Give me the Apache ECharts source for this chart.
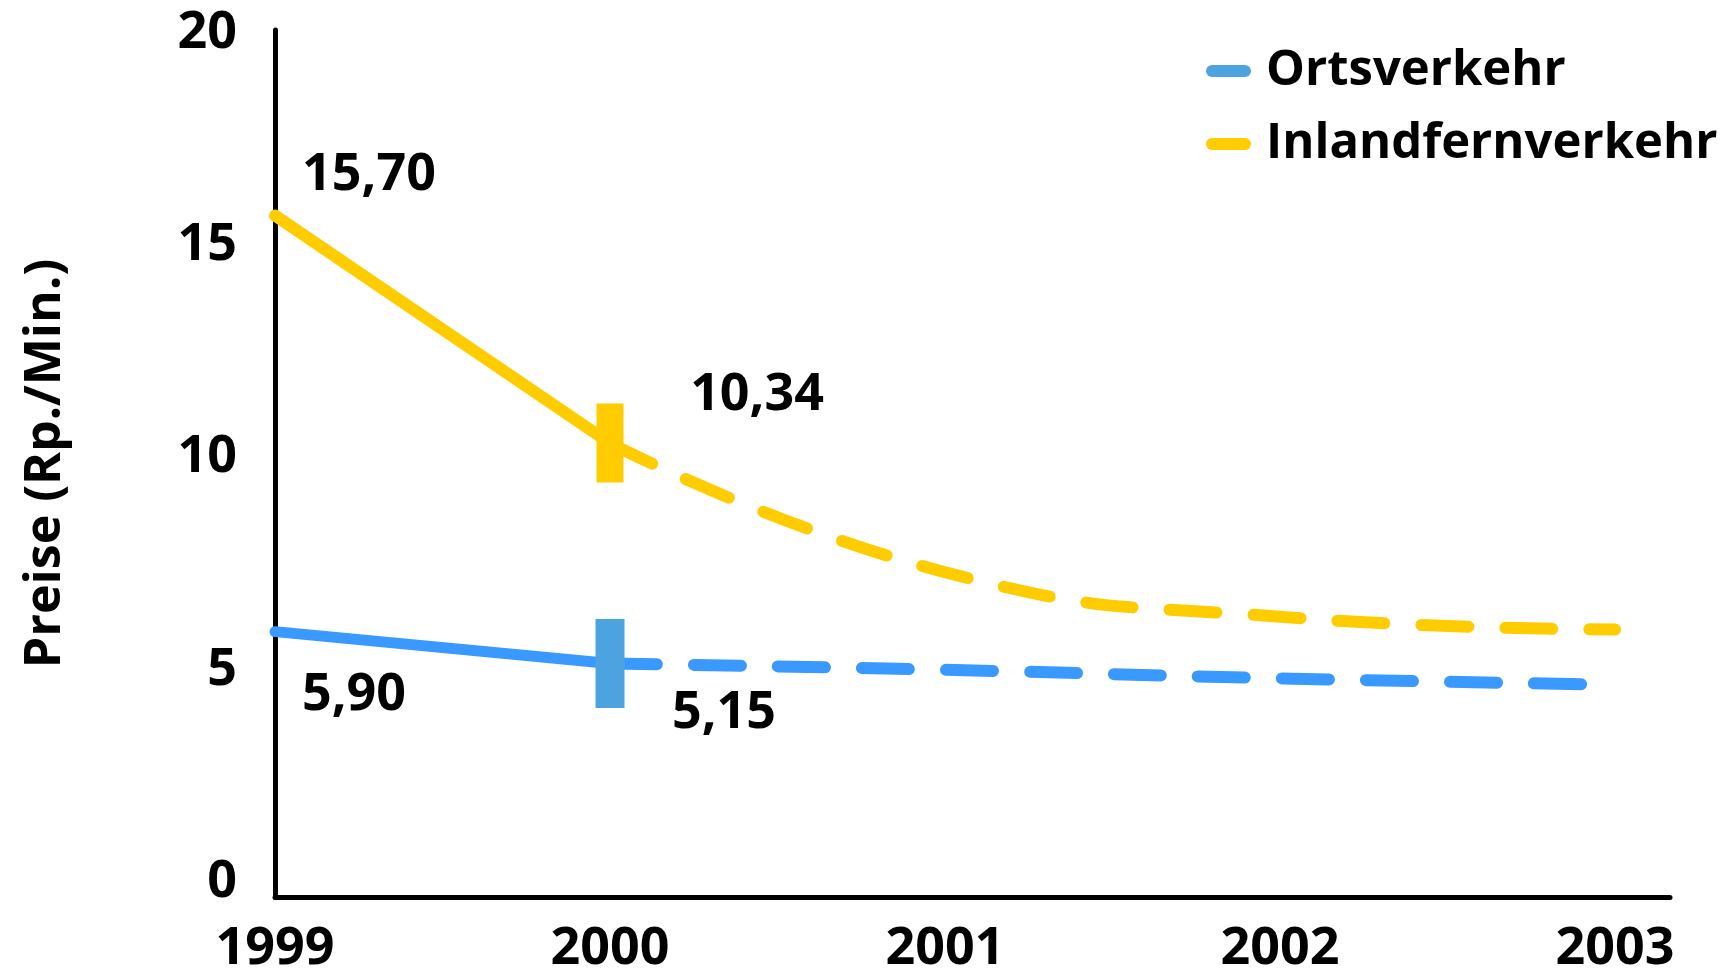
<!DOCTYPE html>
<html>
<head>
<meta charset="utf-8">
<script src="https://cdn.jsdelivr.net/npm/echarts@6/dist/echarts.min.js"></script>
<style>
html,body{margin:0;padding:0;background:#fff;}
#chart{width:1733px;height:975px;}
</style>
</head>
<body>
<div id="chart"></div>
<script>
// ---- data ----
const years = [1999, 2000, 2001, 2002, 2003];
const yTicks = [0, 5, 10, 15, 20];
const seriesNames = ['Ortsverkehr', 'Inlandfernverkehr'];
// actual values 1999-2000
const ortsActual = [5.90, 5.15];
const inlandActual = [15.70, 10.34];
// forecast values 2000-2003
const ortsForecast = [5.15, 5.00, 4.80, 4.65];
const inlandForecast = [10.34, 7.30, 6.25, 5.95];

// ---- styles ----
const BLUE = '#3A99FF';
const BLUE_MARK = '#4DA3E0';
const YELLOW = '#FFCC00';
const FONT = '"Open Sans", "Noto Sans", sans-serif';
const FS = 52;

const fmt = v => v.toFixed(2).replace('.', ',');
const actualYears = years.slice(0, 2);
const forecastYears = years.slice(1);
const pairs = (xs, ys) => xs.map((x, i) => [x, ys[i]]);

const inlandLabelOffsets = [[94, -40], [147, -48]];
const ortsLabelOffsets = [[79, 64], [114, 50]];

const labelData = [];
inlandActual.forEach((v, i) => labelData.push({value: [actualYears[i], v], label: {offset: inlandLabelOffsets[i]}}));
ortsActual.forEach((v, i) => labelData.push({value: [actualYears[i], v], label: {offset: ortsLabelOffsets[i]}}));

const capsule = 'path://M6,0 L39,0 A6,6 0 0 1 39,12 L6,12 A6,6 0 0 1 6,0 Z';

const chart = echarts.init(document.getElementById('chart'));
chart.setOption({
  animation: false,
  backgroundColor: '#fff',
  grid: {left: 275, right: 63, top: 30, bottom: 73, containLabel: false},
  legend: {
    orient: 'vertical',
    left: 1201,
    top: 36,
    itemWidth: 45,
    itemHeight: 12,
    itemGap: 13,
    textStyle: {fontFamily: FONT, fontWeight: 'bold', fontSize: 49, color: '#000', lineHeight: 60, padding: [0, 0, 0, 10]},
    data: [
      {name: seriesNames[0], icon: capsule, itemStyle: {color: BLUE_MARK}},
      {name: seriesNames[1], icon: capsule, itemStyle: {color: YELLOW}}
    ]
  },
  xAxis: {
    type: 'value',
    min: 1999,
    max: 2003.164,
    interval: 1,
    axisLine: {onZero: false, lineStyle: {color: '#000', width: 5, cap: 'round'}},
    axisTick: {show: false},
    splitLine: {show: false},
    axisLabel: {
      customValues: years,
      fontFamily: FONT, fontWeight: 'bold', fontSize: FS, color: '#000',
      margin: 26, lineHeight: 52,
      formatter: v => String(v)
    }
  },
  yAxis: {
    type: 'value',
    min: -0.35,
    max: 20.07,
    name: 'Preise (Rp./Min.)',
    nameLocation: 'middle',
    nameGap: 204,
    nameRotate: 90,
    nameTextStyle: {fontFamily: FONT, fontWeight: 'bold', fontSize: 50, color: '#000'},
    axisLine: {show: true, lineStyle: {color: '#000', width: 5, cap: 'round'}},
    axisTick: {show: false},
    splitLine: {show: false},
    axisLabel: {
      customValues: yTicks,
      fontFamily: FONT, fontWeight: 'bold', fontSize: FS, color: '#000',
      margin: 38,
      formatter: v => String(v)
    }
  },
  series: [
    {
      name: seriesNames[0], type: 'line', data: pairs(actualYears, ortsActual),
      symbol: 'none', color: BLUE,
      lineStyle: {color: BLUE, width: 11, cap: 'round'}, z: 3
    },
    {
      name: seriesNames[0], type: 'line', data: pairs(forecastYears, ortsForecast),
      symbol: 'none', smooth: 0.5, color: BLUE,
      lineStyle: {color: BLUE, width: 12, type: [47, 37], cap: 'round'}, z: 3
    },
    {
      name: seriesNames[1], type: 'line', data: pairs(actualYears, inlandActual),
      symbol: 'none', color: YELLOW,
      lineStyle: {color: YELLOW, width: 12, cap: 'round'}, z: 3
    },
    {
      name: seriesNames[1], type: 'line', data: pairs(forecastYears, inlandForecast),
      symbol: 'none', smooth: 0.5, color: YELLOW,
      lineStyle: {color: YELLOW, width: 12, type: [47, 37], cap: 'round'}, z: 3
    },
    {
      name: 'marker-orts', type: 'scatter', symbol: 'rect', symbolSize: [29, 89],
      data: [[actualYears[1], ortsActual[1]]],
      itemStyle: {color: BLUE_MARK, opacity: 1}, z: 4, silent: true
    },
    {
      name: 'marker-inland', type: 'scatter', symbol: 'rect', symbolSize: [27, 79],
      data: [[actualYears[1], inlandActual[1]]],
      itemStyle: {color: YELLOW, opacity: 1}, z: 4, silent: true
    },
    {
      name: 'labels', type: 'scatter', symbolSize: 1,
      itemStyle: {color: 'rgba(0,0,0,0)', opacity: 1},
      data: labelData,
      label: {
        show: true, position: 'inside',
        fontFamily: FONT, fontWeight: 'bold', fontSize: FS, color: '#000',
        formatter: p => fmt(p.value[1])
      },
      z: 5, silent: true
    }
  ]
});
</script>
</body>
</html>
